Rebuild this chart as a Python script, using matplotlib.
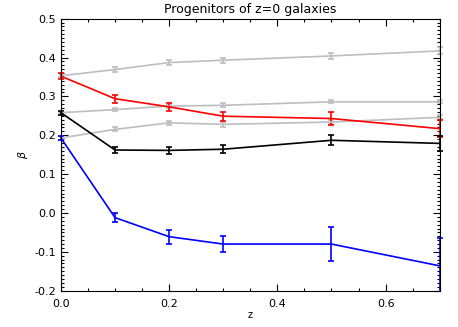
import matplotlib
matplotlib.use('Agg')
import matplotlib.pyplot as plt
from matplotlib.ticker import MultipleLocator
from matplotlib.patches import Rectangle

plt.rcParams['font.size'] = 8
plt.rcParams['font.family'] = 'DejaVu Sans'

z = [0.0, 0.1, 0.2, 0.3, 0.5, 0.7]

# grey reference tracks
grey_top = [0.353, 0.369, 0.387, 0.393, 0.404, 0.417]
grey_top_err = [0.004, 0.006, 0.006, 0.007, 0.008, 0.009]
grey_mid = [0.258, 0.266, 0.275, 0.277, 0.286, 0.286]
grey_mid_err = [0.003, 0.003, 0.004, 0.005, 0.004, 0.004]
grey_low = [0.193, 0.215, 0.232, 0.228, 0.234, 0.246]
grey_low_err = [0.004, 0.005, 0.005, 0.006, 0.005, 0.005]

beta_red = [0.352, 0.294, 0.273, 0.249, 0.243, 0.217]
err_red = [0.008, 0.010, 0.010, 0.012, 0.016, 0.021]
beta_black = [0.258, 0.162, 0.161, 0.164, 0.187, 0.179]
err_black = [0.005, 0.007, 0.008, 0.010, 0.013, 0.019]
beta_blue = [0.193, -0.012, -0.061, -0.080, -0.080, -0.136]
err_blue = [0.006, 0.012, 0.018, 0.020, 0.044, 0.072]

fig = plt.figure(figsize=(4.58, 3.27), dpi=100)
ax = fig.add_axes([0.133, 0.111, 0.827, 0.832])

# clip only top/bottom, let caps at the x limits show in full
clip = Rectangle((-0.05, 0), 1.1, 1, transform=ax.transAxes, fill=False, visible=False)
ax.add_patch(clip)

def draw(y, e, c):
    cont = ax.errorbar(z, y, yerr=e, color=c, lw=1.2, capsize=2.2,
                       elinewidth=1.2, capthick=1.2)
    for art in cont.get_children():
        art.set_clip_path(clip)

grey = '#bebebe'
for y, e in [(grey_top, grey_top_err), (grey_mid, grey_mid_err), (grey_low, grey_low_err)]:
    draw(y, e, grey)

for y, e, c in [(beta_red, err_red, 'red'), (beta_black, err_black, 'black'), (beta_blue, err_blue, 'blue')]:
    draw(y, e, c)

ax.set_xlim(0, 0.7)
ax.set_ylim(-0.2, 0.5)
ax.xaxis.set_major_locator(MultipleLocator(0.2))
ax.xaxis.set_minor_locator(MultipleLocator(0.05))
ax.yaxis.set_major_locator(MultipleLocator(0.1))
ax.yaxis.set_minor_locator(MultipleLocator(0.01))
ax.tick_params(which='both', direction='in', top=True, right=True, width=0.8)
ax.tick_params(which='major', length=5)
ax.tick_params(which='minor', length=2.5)
ax.tick_params(axis='x', pad=6)
ax.xaxis.set_major_formatter(plt.FormatStrFormatter('%.1f'))
ax.yaxis.set_major_formatter(plt.FormatStrFormatter('%.1f'))
for s in ax.spines.values():
    s.set_linewidth(0.8)

ax.set_title('Progenitors of z=0 galaxies', fontsize=9, pad=4)
ax.set_xlabel('z', fontsize=7, labelpad=1)
ax.set_ylabel(r'$\beta$', fontsize=8, labelpad=3)

fig.savefig('out.png', dpi=100)
